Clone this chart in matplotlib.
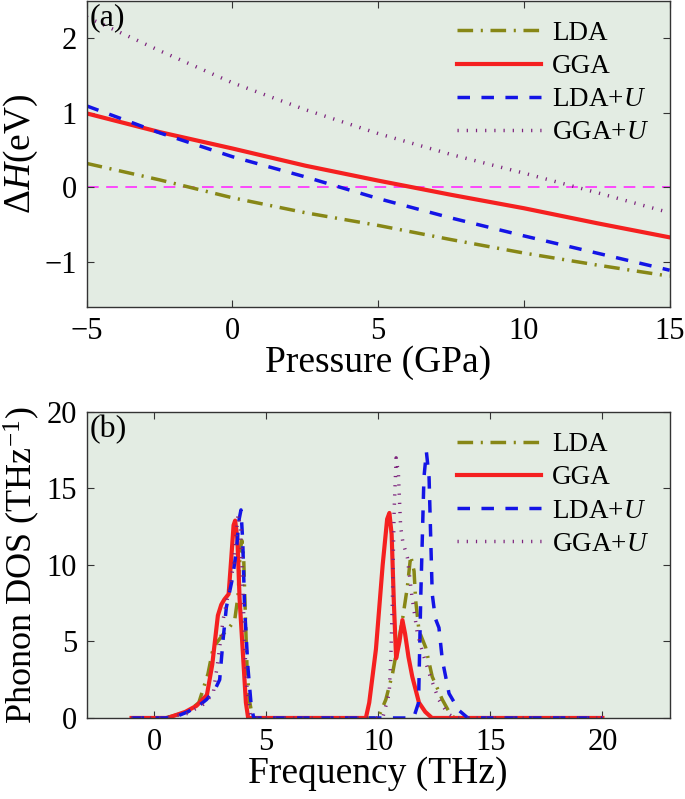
import matplotlib
matplotlib.use("Agg")
import matplotlib.pyplot as plt

plt.rcParams['font.family'] = ['Liberation Serif', 'DejaVu Serif']
plt.rcParams['mathtext.fontset'] = 'custom'
plt.rcParams['mathtext.rm'] = 'Liberation Serif'
plt.rcParams['mathtext.it'] = 'Liberation Serif:italic'
plt.rcParams['mathtext.bf'] = 'Liberation Serif:bold'

# ---------------- data: panel (a) ----------------
pressure = [-5, -2.5, 0, 2.5, 5, 7.5, 10, 12.5, 15]
dH_LDA = [0.32, 0.10, -0.14, -0.34, -0.51, -0.70, -0.88, -1.04, -1.19]
dH_GGA = [0.99, 0.74, 0.52, 0.29, 0.09, -0.10, -0.28, -0.48, -0.67]
dH_LDAU = [1.09, 0.73, 0.41, 0.14, -0.15, -0.41, -0.65, -0.88, -1.11]
dH_GGAU = [2.28, 1.83, 1.40, 1.04, 0.72, 0.44, 0.19, -0.07, -0.34]

# ---------------- data: panel (b) ----------------
f_LDA = [-1, 0.5, 1.5, 2.0, 2.41, 2.6, 2.79, 3.1, 3.38, 3.6, 3.75, 3.85, 3.92, 4.0, 4.08, 4.15, 4.25, 4.4,
         10.0, 10.34, 10.64, 10.9, 11.08, 11.3, 11.45, 11.6, 11.67, 11.82, 12.12, 12.41, 12.86, 13.2, 13.4, 20]
d_LDA = [0, 0, 0.4, 1.0, 2.9, 4.3, 4.9, 5.5, 5.95, 6.4, 8.0, 11.0, 11.6, 10.5, 6.5, 3.3, 1.2, 0,
         0, 1.2, 2.9, 5.0, 6.4, 8.55, 10.6, 9.6, 7.7, 5.7, 4.6, 2.7, 1.2, 0.3, 0, 0]

f_GGA = [-1, 0.6, 1.4, 1.9, 2.36, 2.6, 2.85, 3.0, 3.14, 3.33, 3.45, 3.55, 3.62, 3.72, 3.82, 4.0, 4.1, 4.2,
         9.45, 9.6, 9.9, 10.2, 10.4, 10.5, 10.6, 10.7, 10.8, 10.95, 11.08, 11.2, 11.35, 11.52, 11.82, 12.1, 12.4, 20]
d_GGA = [0, 0, 0.4, 0.8, 1.5, 3.5, 6.7, 7.4, 7.75, 8.1, 10.5, 12.6, 12.9, 11.7, 7.75, 3.4, 1.0, 0,
         0, 1.0, 4.5, 10.0, 13.0, 13.4, 12.0, 7.5, 3.9, 5.0, 6.4, 5.5, 4.0, 2.7, 1.0, 0.4, 0, 0]

f_LDAU = [-1, 0.5, 1.0, 1.5, 2.0, 2.34, 2.7, 2.93, 3.08, 3.23, 3.51, 3.67, 3.8, 3.88, 3.96, 4.04, 4.19, 4.34, 4.45,
          11.3, 11.6, 11.8, 11.9, 12.04, 12.15, 12.27, 12.41, 12.55, 12.71, 12.86, 13.16, 13.6, 14.0, 20]
d_LDAU = [0, 0, 0.1, 0.4, 0.8, 1.2, 1.8, 2.5, 5.1, 7.25, 9.2, 10.9, 13.0, 13.6, 11.5, 7.25, 3.3, 0.74, 0,
          0, 0.1, 1.0, 8.0, 15.7, 17.4, 15.7, 8.1, 6.5, 5.9, 3.8, 1.6, 0.5, 0, 0]

f_GGAU = [-1, 0.5, 1.5, 2.2, 2.64, 2.86, 3.08, 3.3, 3.55, 3.75, 3.85, 3.95, 4.05, 4.15, 4.3, 4.4,
          10.2, 10.49, 10.56, 10.64, 10.71, 10.8, 10.9, 11.0, 11.1, 11.3, 11.5, 11.75, 12.0, 12.3, 12.7, 13.1, 13.4, 20]
d_GGAU = [0, 0, 0.3, 0.9, 1.6, 3.8, 6.4, 8.0, 10.0, 13.3, 12.5, 9.0, 4.6, 2.0, 0.3, 0,
          0, 1.6, 3.8, 8.1, 13.5, 17.0, 16.0, 12.5, 11.5, 10.5, 8.0, 5.5, 4.2, 2.8, 1.2, 0.3, 0, 0]

labels = ['LDA', 'GGA', r'LDA+$U$', r'GGA+$U$']

# ---------------- styles ----------------
bg = '#e3ece3'
c_lda = '#878716'
c_gga = '#f52020'
c_ldau = '#1414e6'
c_ggau = '#7d237d'

styles = [
    dict(color=c_lda, lw=2.5, dashes=(4.5, 2.2, 0.6, 2.2)),
    dict(color=c_gga, lw=3.0, linestyle='-'),
    dict(color=c_ldau, lw=2.5, dashes=(3.6, 3.3)),
    dict(color=c_ggau, lw=2.5, dashes=(0.35, 2.3)),
]

fig = plt.figure(figsize=(6.85, 7.99), dpi=100)
ax1 = fig.add_axes([0.1266, 0.616, 0.851, 0.3832])
ax2 = fig.add_axes([0.1266, 0.1014, 0.851, 0.383])

TICK_FS = 22
LABEL_FS = 27
LEG_FS = 19.5

def style_axes(ax):
    ax.set_facecolor(bg)
    for s in ax.spines.values():
        s.set_color('#333333')
        s.set_linewidth(1.0)
    ax.tick_params(direction='in', top=True, right=True, length=5, width=0.8,
                   labelsize=TICK_FS, pad=7, color='#333333')

def add_legend(ax):
    ax.legend(loc='upper right', frameon=False, fontsize=LEG_FS, handlelength=3.1,
              handletextpad=0.4, labelspacing=0.3, borderaxespad=0.45, borderpad=0.3)

# panel (a)
ax1.axhline(0, color='#ff2dff', lw=1.2, dashes=(7, 4.5), zorder=1)
for y, lab, st in zip([dH_LDA, dH_GGA, dH_LDAU, dH_GGAU], labels, styles):
    ax1.plot(pressure, y, label=lab, **st)
ax1.set_xlim(-5, 15)
ax1.set_ylim(-1.6, 2.5)
ax1.set_xticks([-5, 0, 5, 10, 15])
ax1.set_yticks([-1, 0, 1, 2])
style_axes(ax1)
ax1.set_xlabel('Pressure (GPa)', fontsize=LABEL_FS, labelpad=0)
ax1.set_ylabel(r'$\Delta H$(eV)', fontsize=LABEL_FS, labelpad=3)
ax1.text(0.005, 0.99, '(a)', transform=ax1.transAxes, fontsize=23, va='top', ha='left')
add_legend(ax1)

# panel (b)
for x, y, lab, st in zip([f_LDA, f_GGA, f_LDAU, f_GGAU], [d_LDA, d_GGA, d_LDAU, d_GGAU], labels, styles):
    ax2.plot(x, y, label=lab, **st)
ax2.set_xlim(-3, 23)
ax2.set_ylim(0, 20)
ax2.set_xticks([0, 5, 10, 15, 20])
ax2.set_yticks([0, 5, 10, 15, 20])
style_axes(ax2)
ax2.set_xlabel('Frequency (THz)', fontsize=LABEL_FS, labelpad=0)
ax2.set_ylabel(r'Phonon DOS (THz$^{-1}$)', fontsize=LABEL_FS - 1, labelpad=3)
ax2.text(0.005, 0.99, '(b)', transform=ax2.transAxes, fontsize=23, va='top', ha='left')
add_legend(ax2)

fig.savefig('out.png', dpi=100, facecolor='white')
